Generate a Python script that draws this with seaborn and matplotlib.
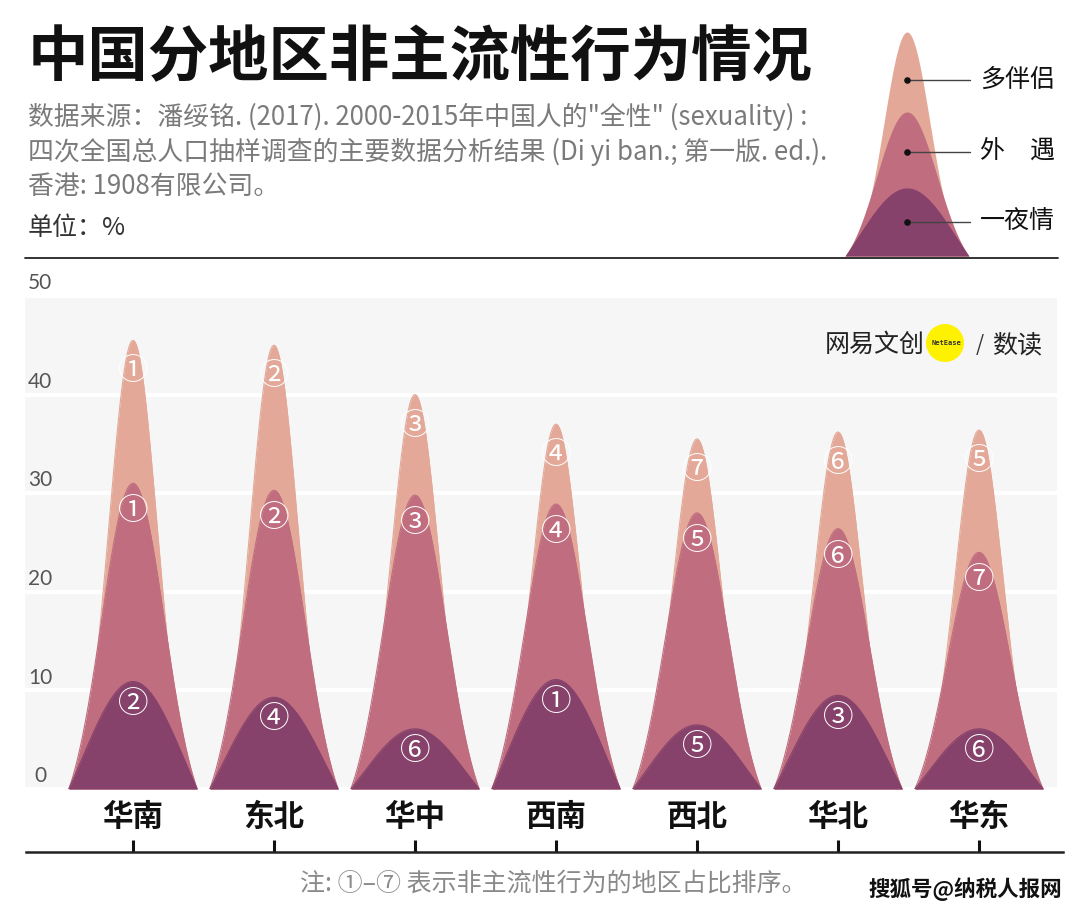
import numpy as np
import pandas as pd
import matplotlib
matplotlib.use('Agg')
import matplotlib.pyplot as plt
from matplotlib.lines import Line2D
from matplotlib.patches import Ellipse
import seaborn as sns

# values in %
regions = ['华南', '东北', '华中', '西南', '西北', '华北', '华东']
multi_partner = [45.5, 45.0, 40.0, 37.0, 35.5, 36.2, 36.4]   # 多伴侣
affair = [31.0, 30.3, 29.8, 28.9, 28.0, 26.4, 24.0]          # 外遇
one_night = [10.9, 9.3, 6.1, 11.1, 6.5, 9.5, 6.1]            # 一夜情
layers = ['多伴侣', '外遇', '一夜情']
legend_labels = ['多伴侣', '外　遇', '一夜情']
yticks = [0, 10, 20, 30, 40, 50]
circled = '①②③④⑤⑥⑦'

colors = ['#E3A898', '#BF6D7F', '#86426A']
sigmas = [0.37, 0.49, 0.8]        # peak sharpness per layer
label_offset = [-3.2, -2.9, -2.3]  # rank label below each peak top
HALF = 0.455                       # half base width of a peak (category units)

W, H = 1080, 915


def bell(h, sigma, n=241):
    t = np.linspace(-1, 1, n)
    e1 = np.exp(-1 / (2 * sigma ** 2))
    y = h * (np.exp(-t ** 2 / (2 * sigma ** 2)) - e1) / (1 - e1)
    return t * HALF, y


df = pd.DataFrame({'region': regions, '多伴侣': multi_partner,
                   '外遇': affair, '一夜情': one_night})

# long table of curve points
rows = []
for k, lay in enumerate(layers):
    for i, h in enumerate(df[lay]):
        xs, ys = bell(h, sigmas[k])
        for x, y in zip(xs, ys):
            rows.append((lay, regions[i], i + x, y))
curves = pd.DataFrame(rows, columns=['layer', 'region', 'x', 'y'])

sns.set_theme(style='white')
plt.rcParams['font.family'] = ['Noto Sans CJK SC', 'DejaVu Sans']

fig = plt.figure(figsize=(W / 100, H / 100), dpi=100)
fig.patch.set_facecolor('white')

# ---- main panel
ax = fig.add_axes([25 / W, 1 - 789 / H, (1057 - 25) / W, (789 - 296) / H])
ax.set_facecolor('#F6F6F7')
for k, lay in enumerate(layers):
    sub = curves[curves.layer == lay]
    for reg, g in sub.groupby('region', sort=False):
        ax.fill_between(g.x, 0, g.y, color=colors[k], lw=0, zorder=2 + k)
    sns.lineplot(data=sub, x='x', y='y', units='region', estimator=None,
                 sort=False, color=colors[k], lw=0.8, ax=ax, zorder=2 + k)

ax.set_xlim((25 - 133) / 141, (1057 - 133) / 141)
ax.set_ylim(0, 50)
ax.set_yticks(yticks)
ax.set_xticks([])
ax.grid(axis='y', color='white', lw=3)
ax.set_axisbelow(True)
ax.tick_params(left=False, labelleft=False)
ax.set_xlabel('')
ax.set_ylabel('')
for s in ax.spines.values():
    s.set_visible(False)

for v in yticks:
    ax.annotate(str(v), xy=((40 - 25) / (1057 - 25), v), xycoords=('axes fraction', 'data'),
                xytext=(0, 2), textcoords='offset points', ha='center', va='bottom',
                fontsize=15, color='#555555', family='Lato', annotation_clip=False)

# rank labels
for k, lay in enumerate(layers):
    ranks = df[lay].rank(ascending=False, method='min').astype(int)
    for i, (h, r) in enumerate(zip(df[lay], ranks)):
        ax.text(i, h + label_offset[k], circled[r - 1], ha='center', va='center',
                fontsize=22, color='white', zorder=10)

# ---- category axis below
ax2 = fig.add_axes([26 / W, 1 - 852 / H, (1063 - 26) / W, 60 / H])
ax2.set_xlim((26 - 133) / 141, (1063 - 133) / 141)
ax2.set_ylim(0, 1)
ax2.patch.set_alpha(0)
for s in ['top', 'left', 'right']:
    ax2.spines[s].set_visible(False)
ax2.spines['bottom'].set_color('#222222')
ax2.spines['bottom'].set_linewidth(1.8)
ax2.set_xticks(range(len(regions)))
ax2.set_xticklabels([])
ax2.set_yticks([])
ax2.tick_params(axis='x', direction='in', length=9, width=2.2, color='#111111', bottom=True)
for i, reg in enumerate(regions):
    ax2.text(i, (852 - 817) / 60, reg, ha='center', va='center', fontsize=22,
             fontweight='bold', color='#111111')

# ---- header
fig.text(28 / W, 1 - 58 / H, '中国分地区非主流性行为情况', fontsize=43.5, fontweight='bold',
         color='#111111', va='center', ha='left')
sub_lines = ['数据来源：潘绥铭. (2017). 2000-2015年中国人的"全性" (sexuality) :',
             '四次全国总人口抽样调查的主要数据分析结果 (Di yi ban.; 第一版. ed.).',
             '香港: 1908有限公司。']
for yy, line in zip([117, 152, 186], sub_lines):
    fig.text(28 / W, 1 - yy / H, line, fontsize=18.6, color='#7a7a7a', va='center', ha='left')
fig.text(28 / W, 1 - 228 / H, '单位：%', fontsize=18, color='#333333', va='center', ha='left')
fig.add_artist(Line2D([25 / W, 1058 / W], [1 - 258 / H, 1 - 258 / H], color='#222222', lw=1.3))

# ---- legend glyph
lax = fig.add_axes([845 / W, 1 - 256 / H, 124 / W, 224 / H])
lax.set_xlim(-HALF, HALF)
lax.set_ylim(0, 1)
lax.axis('off')
legend_heights = [1.0, 0.643, 0.304]
dot_y = [0.786, 0.464, 0.152]
for k in range(3):
    xs, ys = bell(legend_heights[k], sigmas[k])
    lax.fill_between(xs, 0, ys, color=colors[k], lw=0)
    lax.plot([0, (970 - 907) / 124 * 2 * HALF], [dot_y[k], dot_y[k]], color='#444444',
             lw=1, clip_on=False)
    lax.scatter([0], [dot_y[k]], s=14, color='#111111', zorder=5, clip_on=False)
    fig.text(980 / W, 1 - (256 - dot_y[k] * 224) / H, legend_labels[k], fontsize=18,
             color='#111111', va='center', ha='left')

# ---- logo
fig.add_artist(Ellipse((945 / W, 1 - 343 / H), 38 / W, 38 / H, color='#FFF200', lw=0))
fig.text(825 / W, 1 - 345 / H, '网易文创', fontsize=18, color='#222222', va='center', ha='left')
fig.text(947 / W, 1 - 343 / H, 'NetEase', fontsize=5, color='#333333', va='center', ha='center',
         family='DejaVu Sans Mono', fontweight='bold')
fig.text(980 / W, 1 - 345 / H, '/', fontsize=15, color='#333333', va='center', ha='center')
fig.text(992 / W, 1 - 345 / H, '数读', fontsize=18, color='#222222', va='center', ha='left')

# ---- footnotes
fig.text(300 / W, 1 - 884 / H, '注: ①–⑦ 表示非主流性行为的地区占比排序。', fontsize=18,
         color='#8a8a8a', va='center', ha='left')
fig.text(1062 / W, 1 - 889 / H, '搜狐号@纳税人报网', fontsize=15.5, fontweight='bold',
         color='#111111', va='center', ha='right')

fig.savefig('out.png', dpi=100)
